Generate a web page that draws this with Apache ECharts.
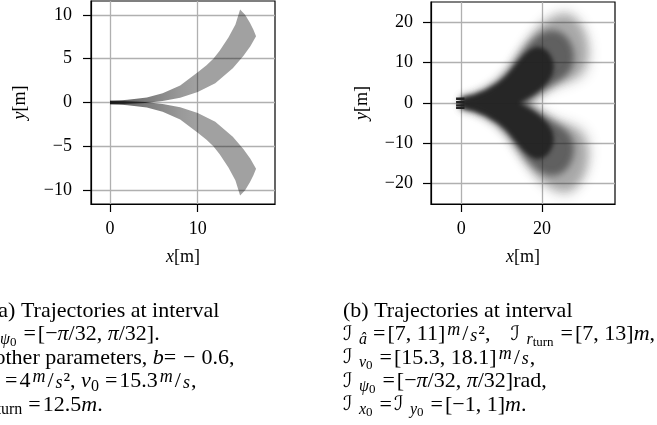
<!DOCTYPE html>
<html><head><meta charset="utf-8">
<script src="https://cdn.jsdelivr.net/npm/echarts@6/dist/echarts.min.js"></script>
<style>html,body{margin:0;padding:0;background:#fff}#c{width:657px;height:425px}</style>
</head><body><div id="c"></div>
<script>
// ---------- data ----------
const leftXTicks = [0, 10];
const leftYTicks = [-10, -5, 0, 5, 10];
const rightXTicks = [0, 20];
const rightYTicks = [-20, -10, 0, 10, 20];

// (a) band of trajectories turning left (outer edge, end cap, inner edge)
const aUpperBand = [[0,0.2],[1,0.22],[2,0.3],[3,0.42],[4.2,0.58],[6,1.05],[8,1.95],[10,3.45],[11,4.25],[11.78,5],[12.5,5.9],[13.5,7.4],[14.3,8.9],[14.83,10.6],
  [15.4,10.0],[15.95,9.1],[16.35,8.3],[16.65,7.56],
  [16,6.4],[15.2,5.3],[14,3.9],[12,2.2],[10,1.2],[8,0.55],[6,0.18],[4,-0.05],[2,-0.15],[1,-0.2],[0,-0.2]];
// (a) band of trajectories turning right
const aLowerBand = [[0,-0.2],[1,-0.22],[2,-0.3],[3,-0.42],[4.2,-0.58],[6,-1.05],[8,-1.95],[10,-3.45],[11,-4.25],[11.78,-5],[12.5,-5.9],[13.5,-7.4],[14.3,-8.9],[14.83,-10.6],
  [15.4,-10.0],[15.95,-9.1],[16.35,-8.3],[16.65,-7.56],
  [16,-6.4],[15.2,-5.3],[14,-3.9],[12,-2.2],[10,-1.2],[8,-0.55],[6,-0.18],[4,0.05],[2,0.15],[1,0.2],[0,0.2]];

// (b) density contours of the trajectory cloud, outer (faint) to core (dark)
const bLevel1 = [[0,1.4],[3,2.2],[6,3.6],[9,5.8],[11.5,8.6],[13.5,11.7],[15.5,14.8],[17.5,17.6],[19.5,19.9],[21.5,21.6],[23.5,22.7],[25.5,23.2],[27,23],[28.5,22],[30,20.3],[31.3,18],[32.2,15],[32.5,12],[32.1,9],[31,6.6],[28.8,5.2],[25.8,4.3],[23,3.3],[20.5,2],[18.5,0.8],[18,0],
  [18.5,-0.8],[20.5,-2],[23,-3.3],[25.8,-4.3],[28.8,-5.2],[31,-6.6],[32.1,-9],[32.5,-12],[32.2,-15],[31.3,-18],[30,-20.3],[28.5,-22],[27,-23],[25.5,-23.2],[23.5,-22.7],[21.5,-21.6],[19.5,-19.9],[17.5,-17.6],[15.5,-14.8],[13.5,-11.7],[11.5,-8.6],[9,-5.8],[6,-3.6],[3,-2.2],[0,-1.4]];
const bLevel2 = [[0,1.4],[3,2.1],[6,3.4],[9,5.5],[11.5,8.2],[13.5,11.2],[15.5,14.2],[17.5,16.9],[19.5,19.0],[21.5,20.5],[23.5,21.5],[25.5,21.9],[27,21.6],[28.5,20.6],[29.9,18.8],[30.9,16.5],[31.4,13.8],[31.3,11],[30.5,8.6],[29,6.8],[26.8,5.6],[24,4.5],[21.5,3.2],[19.5,1.8],[17.5,0.6],[17,0],
  [17.5,-0.6],[19.5,-1.8],[21.5,-3.2],[24,-4.5],[26.8,-5.6],[29,-6.8],[30.5,-8.6],[31.3,-11],[31.4,-13.8],[30.9,-16.5],[29.9,-18.8],[28.5,-20.6],[27,-21.6],[25.5,-21.9],[23.5,-21.5],[21.5,-20.5],[19.5,-19.0],[17.5,-16.9],[15.5,-14.2],[13.5,-11.2],[11.5,-8.2],[9,-5.5],[6,-3.4],[3,-2.1],[0,-1.4]];
const bLevel3 = [[0,1.35],[3,2.0],[6,3.3],[9,5.2],[11.5,7.7],[13.5,10.5],[15.5,13.3],[17.5,15.6],[19.5,17.2],[21.5,18],[23.5,18],[25.3,17.2],[26.8,15.6],[27.8,13.3],[28,10.8],[27.3,8.4],[25.8,6.6],[23.8,5.2],[21.5,3.8],[19.5,2.4],[17.5,1.1],[16,0],
  [17.5,-1.1],[19.5,-2.4],[21.5,-3.8],[23.8,-5.2],[25.8,-6.6],[27.3,-8.4],[28,-10.8],[27.8,-13.3],[26.8,-15.6],[25.3,-17.2],[23.5,-18],[21.5,-18],[19.5,-17.2],[17.5,-15.6],[15.5,-13.3],[13.5,-10.5],[11.5,-7.7],[9,-5.2],[6,-3.3],[3,-2.0],[0,-1.35]];
const bLevel4 = [[0,1.3],[3,1.95],[6,3.1],[9,4.9],[11,6.6],[12.5,8.3],[14,10.2],[15.5,11.9],[17,13.2],[18.5,13.9],[20,13.8],[21.5,12.8],[22.6,11],[23,9],[22.6,7],[21.5,5.2],[19.8,3.5],[17.8,2],[15.8,0.8],[14.5,0],
  [15.8,-0.8],[17.8,-2],[19.8,-3.5],[21.5,-5.2],[22.6,-7],[23,-9],[22.6,-11],[21.5,-12.8],[20,-13.8],[18.5,-13.9],[17,-13.2],[15.5,-11.9],[14,-10.2],[12.5,-8.3],[11,-6.6],[9,-4.9],[6,-3.1],[3,-1.95],[0,-1.3]];
const bLevelAlpha = [0.14, 0.28, 0.55, 0.92];
const bLevelBlur = [12, 9, 7, 4];
// (b) short start segments (initial positions) near the origin
const bStartY = [1.05, 0.2, -0.6, -1.2];
const bStartX = [-1.3, 0.8];

// ---------- chart ----------
const SERIF = 'Liberation Serif';
const chart = echarts.init(document.getElementById('c'), null, {renderer: 'canvas'});
const minus = v => (v < 0 ? '\u2212' + Math.abs(v) : String(v));

// polygon drawn through the axes; "soft" polygons are rendered as their blurred shadow only
function polySeries(xi, pts, styleFn, z, soft) {
  const OFF = soft ? 3000 : 0;
  return {
    type: 'custom', xAxisIndex: xi, yAxisIndex: xi, coordinateSystem: 'cartesian2d',
    data: pts, clip: true, silent: true, animation: false, z: z,
    renderItem: function (params, api) {
      if (params.dataIndex !== 0) return;
      const points = pts.map(p => { const c = api.coord(p); return [c[0] + OFF, c[1]]; });
      const st = styleFn(api);
      if (soft) st.shadowOffsetX = -OFF;
      return {type: 'polygon', shape: {points: points}, style: st};
    }
  };
}
function bandStyle(api) {
  const p0 = api.coord([0, 0]), p1 = api.coord([10, 0]);
  return {fill: new echarts.graphic.LinearGradient(p0[0], 0, p1[0], 0, [
    {offset: 0, color: 'rgba(0,0,0,0.64)'},
    {offset: 0.45, color: 'rgba(0,0,0,0.5)'},
    {offset: 0.8, color: 'rgba(0,0,0,0.4)'},
    {offset: 1, color: 'rgba(0,0,0,0.37)'}
  ], true), stroke: null};
}

function axisCommon(ticks) {
  return {
    type: 'value',
    axisLine: {show: true, onZero: false, lineStyle: {color: '#000', width: 1.2}},
    axisTick: {show: true, length: 8, customValues: ticks, lineStyle: {color: '#000', width: 1.2}},
    axisLabel: {customValues: ticks, fontFamily: SERIF, fontSize: 18, color: '#000', formatter: minus},
    splitLine: {show: true, lineStyle: {color: '#b0b0b0', width: 1.3}},
    nameLocation: 'middle',
    nameTextStyle: {fontFamily: SERIF, fontSize: 18, color: '#000',
      rich: {i: {fontFamily: SERIF, fontSize: 18, fontStyle: 'italic', color: '#000'}}}
  };
}
function ax(ticks, extra) { const o = axisCommon(ticks); Object.keys(extra).forEach(k => {
  if (typeof extra[k] === 'object' && o[k]) o[k] = Object.assign({}, o[k], extra[k]); else o[k] = extra[k]; }); return o; }

const FS = 22;
const rich = {
  t: {fontFamily: SERIF, fontSize: FS, fill: '#000', lineHeight: 24},
  i: {fontFamily: SERIF, fontSize: FS, fontStyle: 'italic', fill: '#000', lineHeight: 24},
  I: {fontFamily: 'DejaVu Serif, DejaVu Sans', fontSize: 20, fontStyle: 'italic', fill: '#000', lineHeight: 24, width: 16},
  s: {fontFamily: SERIF, fontSize: 16, fontStyle: 'italic', fill: '#000', lineHeight: 24, padding: [10, 0, 0, 0]},
  sr: {fontFamily: SERIF, fontSize: 16, fill: '#000', lineHeight: 24, padding: [10, 0, 0, 0]},
  ss: {fontFamily: SERIF, fontSize: 13, fill: '#000', lineHeight: 24, padding: [16, 1, 0, 0]},
  eq: {fontFamily: SERIF, fontSize: FS, fill: '#000', lineHeight: 24, padding: [0, 2, 0, 6]},
  mn: {fontFamily: SERIF, fontSize: FS, fill: '#000', lineHeight: 24, padding: [0, 6, 0, 7]},
  um: {fontFamily: SERIF, fontSize: 18, fontStyle: 'italic', fill: '#000', lineHeight: 24, padding: [0, 2, 8, 2]},
  sl: {fontFamily: SERIF, fontSize: 22, fill: '#000', lineHeight: 24},
  us: {fontFamily: SERIF, fontSize: 18, fontStyle: 'italic', fill: '#000', lineHeight: 24, padding: [3, 1, 0, 2]},
  q: {fontFamily: SERIF, fontSize: FS, fill: '#000', lineHeight: 24, width: 20}
};
const captionA = [
  '{t|(a) Trajectories at interval}',
  '{I|ℐ}{s|ψ}{ss|0}{eq|=}{t|[−}{i|π}{t|/32, }{i|π}{t|/32].}',
  '{t|other parameters, }{i|b}{t|=}{mn|−}{t|0.6,}',
  '{i|â}{eq|=}{t|4}{um|m}{sl|/}{us|s}{t|², }{i|v}{sr|0}{eq|=}{t|15.3}{um|m}{sl|/}{us|s}{t|,}',
  '{i|r}{sr|turn}{eq|=}{t|12.5}{i|m}{t|.}'
];
const captionAx = [-9, -16, -5.5, -12, -12];
const captionB = [
  '{t|(b) Trajectories at interval}',
  '{I|ℐ}{s|â}{eq|=}{t|[7, 11]}{um|m}{sl|/}{us|s}{t|²,}{q| }{I|ℐ}{s|r}{ss|turn}{eq|=}{t|[7, 13]}{i|m}{t|,}',
  '{I|ℐ}{s|v}{ss|0}{eq|=}{t|[15.3, 18.1]}{um|m}{sl|/}{us|s}{t|,}',
  '{I|ℐ}{s|ψ}{ss|0}{eq|=}{t|[−}{i|π}{t|/32, }{i|π}{t|/32]rad,}',
  '{I|ℐ}{s|x}{ss|0}{eq|=}{I|ℐ}{s|y}{ss|0}{eq|=}{t|[−1, 1]}{i|m}{t|.}'
];
const captionY = [311, 334.5, 358, 381.5, 405];
const graphics = [];
captionA.forEach((s, k) => graphics.push({type: 'text', x: captionAx[k], y: captionY[k], silent: true,
  style: {text: s, rich: rich, verticalAlign: 'middle', align: 'left', fontFamily: SERIF, fontSize: FS, fill: '#000'}}));
captionB.forEach((s, k) => graphics.push({type: 'text', x: 343, y: captionY[k], silent: true,
  style: {text: s, rich: rich, verticalAlign: 'middle', align: 'left', fontFamily: SERIF, fontSize: FS, fill: '#000'}}));

const series = [
  polySeries(0, aUpperBand, bandStyle, 2, false),
  polySeries(0, aLowerBand, bandStyle, 2, false)
];
[bLevel1, bLevel2, bLevel3, bLevel4].forEach((lv, k) => {
  const c = 'rgba(34,34,34,' + bLevelAlpha[k] + ')';
  series.push(polySeries(1, lv, () => ({fill: '#222', stroke: null, shadowBlur: bLevelBlur[k], shadowColor: c}), 2 + k, true));
});
bStartY.forEach(y => series.push({
  type: 'line', xAxisIndex: 1, yAxisIndex: 1, data: bStartX.map(x => [x, y]), symbol: 'none',
  lineStyle: {color: '#222', width: 2.4, cap: 'butt'}, silent: true, animation: false, z: 7
}));

chart.setOption({
  animation: false,
  backgroundColor: '#fff',
  grid: [
    {left: 91, top: 1, width: 184, height: 203, show: true, borderColor: '#000', borderWidth: 1.2, backgroundColor: 'transparent'},
    {left: 431, top: 2, width: 184, height: 202, show: true, borderColor: '#000', borderWidth: 1.2, backgroundColor: 'transparent'}
  ],
  xAxis: [
    ax(leftXTicks, {gridIndex: 0, min: -2.17, max: 18.81, name: '{i|x}[m]', nameGap: 44, axisLabel: {margin: 16}}),
    ax(rightXTicks, {gridIndex: 1, min: -7.52, max: 38.14, name: '{i|x}[m]', nameGap: 44, axisLabel: {margin: 16}})
  ],
  yAxis: [
    ax(leftYTicks, {gridIndex: 0, min: -11.57, max: 11.57, name: '{i|y}[m]', nameGap: 62, axisLabel: {margin: 19}}),
    ax(rightYTicks, {gridIndex: 1, min: -25.06, max: 25.06, name: '{i|y}[m]', nameGap: 60, axisLabel: {margin: 18}})
  ],
  series: series,
  graphic: graphics
});
</script></body></html>
